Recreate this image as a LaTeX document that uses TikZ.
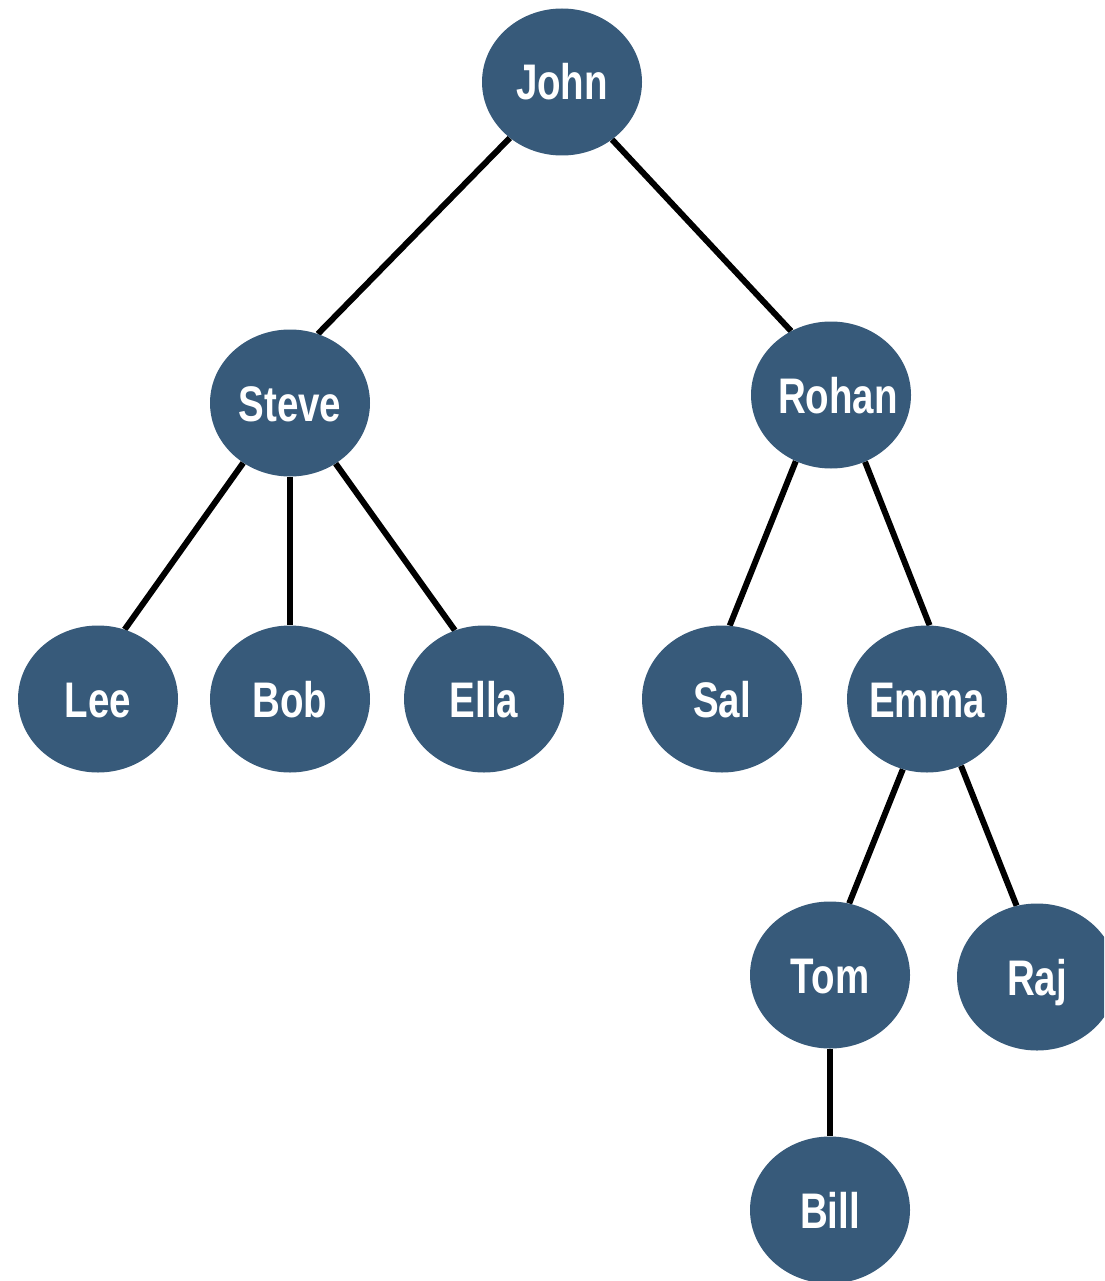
\documentclass[tikz,border=0pt]{standalone}
\usepackage{fontspec}
\newfontfamily\nodefont{Liberation Sans}[FakeStretch=0.77]
\usetikzlibrary{shapes.geometric,backgrounds}
\definecolor{nodeblue}{HTML}{375A7A}
\newcommand{\nm}[1]{\makebox[0pt][c]{#1}}
\tikzset{
  person/.style={ellipse, fill=nodeblue, draw=none, minimum width=160pt, minimum height=147pt,
    inner sep=0pt, text=white, font=\nodefont\bfseries\fontsize{50}{58}\selectfont,
    text height=36pt, text depth=0pt},
  link/.style={draw=black, line width=6pt}
}
\begin{document}
\begin{tikzpicture}[x=1pt,y=-1pt]
\useasboundingbox (0,0) rectangle (1104,1281);
\clip (0,0) rectangle (1104,1281);
\node[person] (john)  at (562,82)   {\nm{John}};
\node[person] (steve) at (290,403)  {\nm{Steve}};
\node[person] (rohan) at (831,395)  {\nm{\hspace{14pt}Rohan}};
\node[person] (lee)   at (98,699)   {\nm{Lee}};
\node[person] (bob)   at (290,699)  {\nm{Bob}};
\node[person] (ella)  at (484,699)  {\nm{Ella}};
\node[person] (sal)   at (722,699)  {\nm{Sal}};
\node[person] (emma)  at (927,699)  {\nm{Emma}};
\node[person] (tom)   at (830,975)  {\nm{Tom}};
\node[person] (raj)   at (1037,977) {\nm{Raj}};
\node[person] (bill)  at (830,1210) {\nm{Bill}};
\begin{scope}[on background layer]
\draw[link] (john.227) -- (steve.68);
\draw[link] (john.311) -- (rohan.122);
\draw[link] (steve.232) -- (lee.69);
\draw[link] (steve.270) -- (bob.90);
\draw[link] (steve.307) -- (ella.113);
\draw[link] (rohan.242) -- (sal.84);
\draw[link] (rohan.297) -- (emma.88);
\draw[link] (emma.251) -- (tom.75);
\draw[link] (emma.297) -- (raj.106);
\draw[link] (tom.270) -- (bill.90);
\end{scope}
\end{tikzpicture}
\end{document}
